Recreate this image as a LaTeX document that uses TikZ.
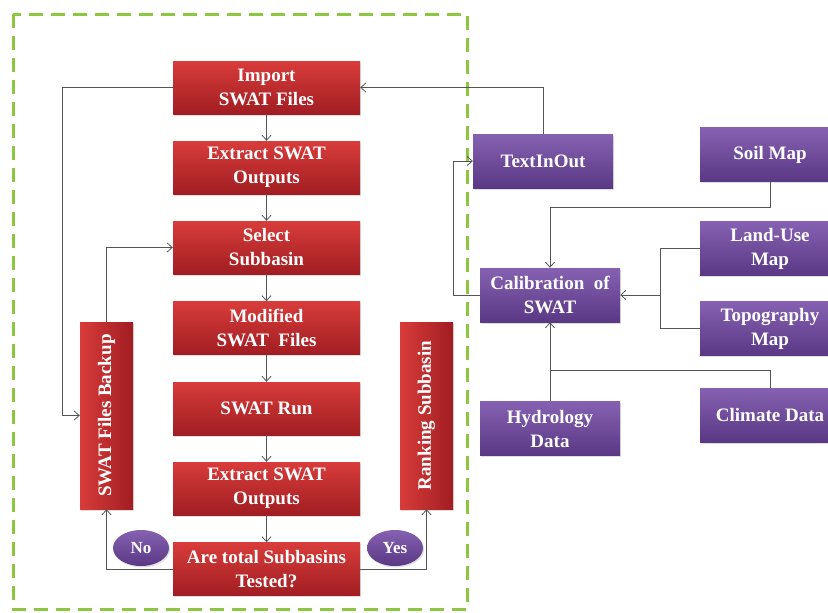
\documentclass[tikz,border=0pt]{standalone}
\usepackage{fontspec}
\setmainfont{Liberation Serif}
\usepackage{xcolor}
\usetikzlibrary{shapes,arrows.meta,positioning,shadows,calc}

\definecolor{redtop}{HTML}{D83C3A}
\definecolor{redbot}{HTML}{A11D22}
\definecolor{purtop}{HTML}{8661B2}
\definecolor{purbot}{HTML}{5A3884}
\definecolor{dashgreen}{HTML}{8DC63F}
\definecolor{linegray}{HTML}{555555}

\begin{document}
\begin{tikzpicture}[x=1pt,y=-1pt,
  redbox/.style={rectangle, top color=redtop, bottom color=redbot, text=white,
    font=\fontsize{19}{24}\selectfont\bfseries, minimum width=187pt, minimum height=53pt,
    align=center, inner sep=1pt, drop shadow={opacity=0.25,shadow xshift=1pt,shadow yshift=-1.5pt}},
  sidebox/.style={rectangle, left color=redtop, right color=redbot, text=white,
    font=\fontsize{19}{24}\selectfont\bfseries, minimum width=53pt, minimum height=187pt,
    inner sep=1pt, drop shadow={opacity=0.25,shadow xshift=1pt,shadow yshift=-1.5pt}},
  purbox/.style={rectangle, top color=purtop, bottom color=purbot, text=white,
    font=\fontsize{19}{24}\selectfont\bfseries, minimum width=140pt, minimum height=54pt,
    align=center, inner sep=1pt, drop shadow={opacity=0.25,shadow xshift=1pt,shadow yshift=-1.5pt}},
  answer/.style={ellipse, top color=purtop, bottom color=purbot, text=white,
    font=\fontsize{17}{19}\selectfont\bfseries, minimum width=56pt, minimum height=36pt,
    inner sep=0pt, drop shadow={opacity=0.25,shadow xshift=1pt,shadow yshift=-1.5pt}},
  arr/.style={draw=linegray, line width=0.8pt, -{Straight Barb[length=5pt,width=9pt]}},
  ln/.style={draw=linegray, line width=0.8pt}]

\useasboundingbox (0,0) rectangle (828,613);

% dashed frame
\draw[dashgreen, line width=3pt, dash pattern=on 14pt off 8pt] (13,14) rectangle (467,609);

% main loop
\node[redbox] (imp) at (266.5,87.5) {Import\\SWAT Files};
\node[redbox] (extr1) at (266.5,167.5) {Extract SWAT\\Outputs};
\node[redbox] (sel) at (266.5,247.5) {Select\\Subbasin};
\node[redbox] (modif) at (266.5,328) {Modified\\SWAT\ \ Files};
\node[redbox] (run) at (266.5,408.5) {SWAT Run};
\node[redbox] (extr2) at (266.5,488.5) {Extract SWAT\\Outputs};
\node[redbox] (tested) at (266.5,569) {Are total Subbasins\\Tested?};

\node[sidebox] (backup) at (106.5,415.5) {\rotatebox{90}{SWAT Files Backup}};
\node[sidebox] (rank) at (426.5,415.5) {\rotatebox{90}{Ranking Subbasin}};

\node[answer] (no) at (141,548) {No};
\node[answer] (yes) at (395,548) {Yes};

\draw[arr] (imp) -- (extr1);
\draw[arr] (extr1) -- (sel);
\draw[arr] (sel) -- (modif);
\draw[arr] (modif) -- (run);
\draw[arr] (run) -- (extr2);
\draw[arr] (extr2) -- (tested);

\coordinate (impbend) at (62,87.5);
\draw[arr] (imp.west) -- (impbend) |- (backup.west);
\draw[arr] (backup.north) |- (sel.west);
\draw[arr] (tested.west) -| (backup.south);
\draw[arr] (tested.east) -| (rank.south);

% inputs
\node[purbox] (textio) at (543,161) {TextInOut};
\node[purbox] (calib) at (550,295) {Calibration\ \ of\\SWAT};
\node[purbox] (hydro) at (550,428.5) {Hydrology\\Data};
\node[purbox] (soil) at (770,154.5) {Soil Map};
\node[purbox] (landuse) at (770,248.5) {Land-Use\\Map};
\node[purbox] (topo) at (770,328.5) {Topography\\Map};
\node[purbox] (climate) at (770,415) {Climate Data};

\draw[arr] (textio.north) |- (imp.east);
\coordinate (calbend) at (453,295);
\draw[arr] (calib.west) -- (calbend) |- (textio.west);

\coordinate (soiljoin) at (550,207);
\draw[arr] (soil.south) |- (soiljoin) -- (calib.north);
\coordinate (mapjoin) at (660,295);
\draw[ln] (landuse.west) -| (mapjoin);
\draw[ln] (topo.west) -| (mapjoin);
\draw[arr] (mapjoin) -- (calib.east);
\coordinate (climjoin) at (550,370);
\draw[ln] (climate.north) |- (climjoin);
\draw[arr] (hydro.north) -- (calib.south);
\end{tikzpicture}
\end{document}
